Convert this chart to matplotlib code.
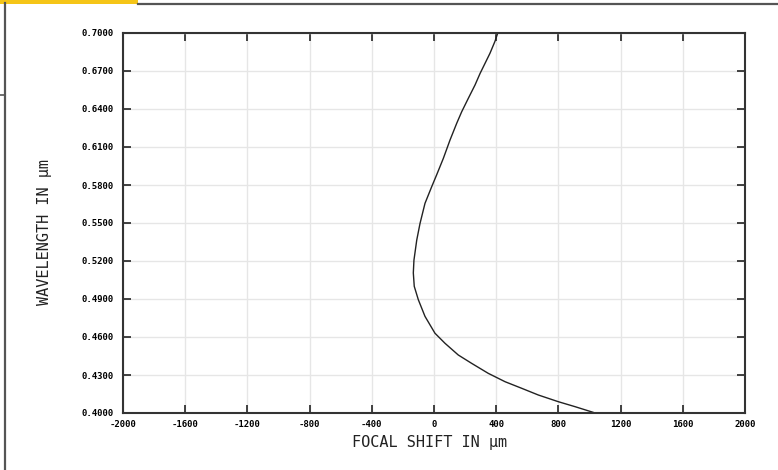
import matplotlib
matplotlib.use("Agg")
import matplotlib.pyplot as plt
from matplotlib.lines import Line2D
from matplotlib.patches import Rectangle

# Data
wavelength = [0.4000, 0.4005, 0.4050, 0.4089, 0.4142, 0.4195, 0.4247, 0.4313, 0.4392,
              0.4458, 0.4550, 0.4630, 0.4763, 0.4895, 0.5000, 0.5106, 0.5206, 0.5365,
              0.5496, 0.5655, 0.5786, 0.5880, 0.6010, 0.6155, 0.6287, 0.6378, 0.6485,
              0.6590, 0.6680, 0.6760, 0.6840, 0.6934, 0.7000]
focal_shift = [1032, 1024, 907, 800, 671, 564, 457, 349, 242,
               156, 71, 6, -58, -101, -127, -133, -129, -111,
               -90, -58, -15, 17, 60, 103, 146, 178, 221,
               264, 296, 328, 360, 392, 410]

x_ticks = [-2000, -1600, -1200, -800, -400, 0, 400, 800, 1200, 1600, 2000]
y_ticks = [0.40, 0.43, 0.46, 0.49, 0.52, 0.55, 0.58, 0.61, 0.64, 0.67, 0.70]
x_tick_labels = [str(v) for v in x_ticks]
y_tick_labels = ["%.4f" % v for v in y_ticks]

fig = plt.figure(figsize=(7.78, 4.70), dpi=100)
W, H = 778, 470

# decorative frame
fig.add_artist(Rectangle((0, 1 - 3.5 / H), 138 / W, 3.5 / H, transform=fig.transFigure,
                         facecolor="#f5c518", edgecolor="none"))
fig.add_artist(Line2D([138 / W, 1], [1 - 3.5 / H, 1 - 3.5 / H], transform=fig.transFigure,
                      color="#555555", lw=1.6))
fig.add_artist(Line2D([4.5 / W, 4.5 / W], [0, 1 - 3 / H], transform=fig.transFigure,
                      color="#555555", lw=1.6))
fig.add_artist(Line2D([0, 4.5 / W], [1 - 95 / H, 1 - 95 / H], transform=fig.transFigure,
                      color="#555555", lw=1.2))

ax = fig.add_axes([123 / W, (H - 413) / H, 622 / W, 380 / H])
ax.plot(focal_shift, wavelength, color="#222222", lw=1.0)

ax.set_xlim(-2000, 2000)
ax.set_ylim(0.40, 0.70)
ax.set_xticks(x_ticks)
ax.set_xticklabels(x_tick_labels)
ax.set_yticks(y_ticks)
ax.set_yticklabels(y_tick_labels)
ax.grid(True, color="#e6e6e6", lw=1.0)
ax.set_axisbelow(True)

ax.tick_params(direction="in", length=6, width=1.2, color="#222222",
               top=True, right=True, labelsize=6.5)
ax.tick_params(axis="y", pad=7)
ax.tick_params(axis="x", pad=5)
for lab in ax.get_xticklabels() + ax.get_yticklabels():
    lab.set_family("DejaVu Sans Mono")
    lab.set_fontweight("bold")
for sp in ax.spines.values():
    sp.set_color("#333333")
    sp.set_linewidth(1.5)

ax.set_xlabel("FOCAL SHIFT IN μm", family="DejaVu Sans Mono", fontsize=11,
              color="#222222")
ax.set_ylabel("WAVELENGTH IN μm", family="DejaVu Sans Mono", fontsize=11,
              color="#222222")
ax.xaxis.set_label_coords((430 - 123) / 622, -(442 - 413) / 380, transform=ax.transAxes)
ax.xaxis.label.set_va("center")
ax.yaxis.set_label_coords(-(123 - 45) / 622, (413 - 232) / 380, transform=ax.transAxes)
ax.yaxis.label.set_va("center")

fig.savefig("out.png", dpi=100)
